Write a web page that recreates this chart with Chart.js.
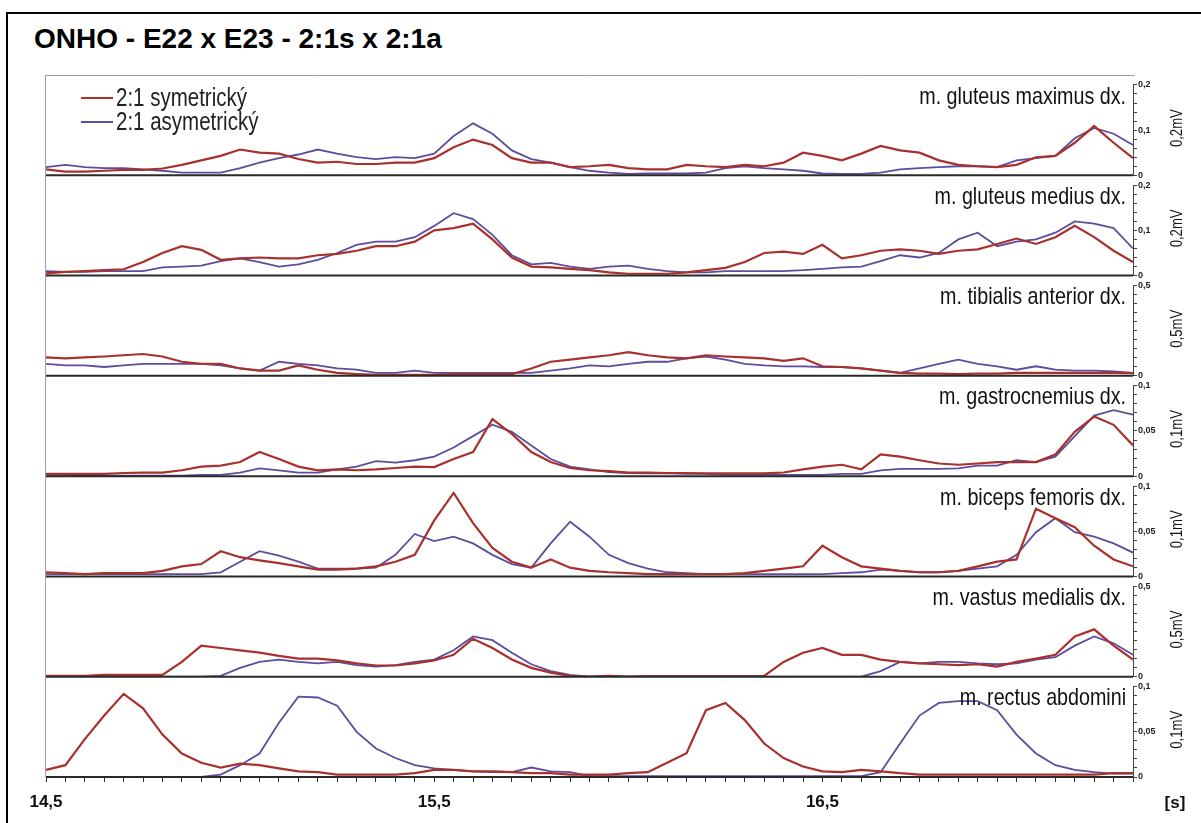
<!DOCTYPE html>
<html>
<head>
<meta charset="utf-8">
<title>ONHO - E22 x E23 - 2:1s x 2:1a</title>
<script src="https://cdn.jsdelivr.net/npm/chart.js@4.4.1/dist/chart.umd.min.js"></script>
<style>
  html, body { margin: 0; padding: 0; background: #fff; }
  #wrap { position: relative; width: 1201px; height: 823px; overflow: hidden; }
  #frame { position: absolute; left: 6px; top: 12px; right: -10px; bottom: -10px;
           border-top: 2px solid #000; border-left: 2px solid #000; }
  #title { position: absolute; left: 34px; top: 25px; color: #000; white-space: nowrap;
           font: bold 28px/28px 'Liberation Sans', Arial, sans-serif; }
  canvas { position: absolute; left: 0; top: 0; }
</style>
</head>
<body>
<div id="wrap">
  <div id="frame"></div>
  <div id="title">ONHO - E22 x E23 - 2:1s x 2:1a</div>
  <canvas id="emg-chart" width="1201" height="823"></canvas>
</div>
<script>
'use strict';

// ************* Data *************
// time base [s], one sample every 0.05 s
let timeS = [14.5, 14.55, 14.6, 14.65, 14.7, 14.75, 14.8, 14.85, 14.9, 14.95,
  15, 15.05, 15.1, 15.15, 15.2, 15.25, 15.3, 15.35, 15.4, 15.45,
  15.5, 15.55, 15.6, 15.65, 15.7, 15.75, 15.8, 15.85, 15.9, 15.95,
  16, 16.05, 16.1, 16.15, 16.2, 16.25, 16.3, 16.35, 16.4, 16.45,
  16.5, 16.55, 16.6, 16.65, 16.7, 16.75, 16.8, 16.85, 16.9, 16.95,
  17, 17.05, 17.1, 17.15, 17.2, 17.25, 17.3];

let xTickValues = [14.5, 15.5, 16.5];
let xTickLabels = ['14,5', '15,5', '16,5'];

let seriesNames = ['2:1 symetrický', '2:1 asymetrický'];

let panelNames = ['m. gluteus maximus dx.', 'm. gluteus medius dx.', 'm. tibialis anterior dx.',
  'm. gastrocnemius dx.', 'm. biceps femoris dx.', 'm. vastus medialis dx.', 'm. rectus abdomini'];
let panelFull = [0.2, 0.2, 0.5, 0.1, 0.1, 0.5, 0.1];
let panelUnits = ['0,2mV', '0,2mV', '0,5mV', '0,1mV', '0,1mV', '0,5mV', '0,1mV'];
let panelTickValues = [[0, 0.1, 0.2], [0, 0.1, 0.2], [0, 0.5], [0, 0.05, 0.1], [0, 0.05, 0.1], [0, 0.5], [0, 0.05, 0.1]];
let panelTickLabels = [['0', '0,1', '0,2'], ['0', '0,1', '0,2'], ['0', '0,5'], ['0', '0,05', '0,1'],
  ['0', '0,05', '0,1'], ['0', '0,5'], ['0', '0,05', '0,1']];

// EMG envelopes [mV]
let gmaxSym = [0.013, 0.008, 0.008, 0.010, 0.012, 0.012, 0.015, 0.023, 0.033, 0.043, 0.057, 0.050, 0.048, 0.036,
  0.028, 0.030, 0.025, 0.025, 0.028, 0.028, 0.038, 0.062, 0.079, 0.067, 0.038, 0.028, 0.028, 0.018,
  0.020, 0.023, 0.016, 0.013, 0.013, 0.023, 0.020, 0.018, 0.023, 0.020, 0.028, 0.050, 0.043, 0.033,
  0.048, 0.065, 0.055, 0.050, 0.033, 0.023, 0.020, 0.018, 0.023, 0.040, 0.043, 0.072, 0.109, 0.072, 0.038];
let gmaxAsym = [0.018, 0.023, 0.018, 0.016, 0.016, 0.013, 0.010, 0.006, 0.006, 0.006, 0.016, 0.028, 0.038, 0.046,
  0.057, 0.048, 0.040, 0.036, 0.040, 0.038, 0.048, 0.087, 0.115, 0.092, 0.055, 0.036, 0.028, 0.018,
  0.010, 0.006, 0.003, 0.004, 0.004, 0.004, 0.006, 0.016, 0.020, 0.016, 0.013, 0.010, 0.004, 0.003,
  0.003, 0.006, 0.013, 0.016, 0.018, 0.020, 0.020, 0.018, 0.033, 0.038, 0.043, 0.082, 0.105, 0.092, 0.067];

let gmedSym = [0.005, 0.008, 0.010, 0.012, 0.014, 0.030, 0.050, 0.065, 0.057, 0.035, 0.038, 0.040, 0.038, 0.038,
  0.045, 0.048, 0.055, 0.065, 0.065, 0.075, 0.100, 0.105, 0.115, 0.080, 0.040, 0.020, 0.018, 0.015,
  0.012, 0.007, 0.004, 0.004, 0.004, 0.007, 0.012, 0.017, 0.030, 0.050, 0.053, 0.048, 0.068, 0.038,
  0.045, 0.055, 0.058, 0.055, 0.048, 0.055, 0.058, 0.070, 0.082, 0.070, 0.085, 0.110, 0.085, 0.055, 0.030];
let gmedAsym = [0.010, 0.008, 0.008, 0.010, 0.010, 0.010, 0.018, 0.020, 0.022, 0.032, 0.038, 0.030, 0.020, 0.025,
  0.035, 0.050, 0.068, 0.075, 0.075, 0.085, 0.110, 0.138, 0.125, 0.090, 0.045, 0.025, 0.028, 0.020,
  0.015, 0.020, 0.022, 0.015, 0.010, 0.007, 0.007, 0.010, 0.010, 0.010, 0.010, 0.012, 0.015, 0.018,
  0.020, 0.032, 0.045, 0.040, 0.050, 0.080, 0.095, 0.065, 0.075, 0.080, 0.095, 0.120, 0.115, 0.105, 0.060];

let tibSym = [0.102, 0.097, 0.102, 0.107, 0.114, 0.121, 0.107, 0.078, 0.066, 0.066, 0.041, 0.029, 0.029, 0.058,
  0.034, 0.017, 0.010, 0.005, 0.005, 0.005, 0.005, 0.010, 0.010, 0.010, 0.010, 0.041, 0.078, 0.090,
  0.102, 0.114, 0.131, 0.114, 0.102, 0.097, 0.114, 0.107, 0.102, 0.097, 0.083, 0.097, 0.053, 0.049,
  0.041, 0.029, 0.017, 0.012, 0.012, 0.010, 0.012, 0.012, 0.017, 0.017, 0.017, 0.017, 0.017, 0.017, 0.015];
let tibAsym = [0.066, 0.058, 0.058, 0.049, 0.058, 0.066, 0.066, 0.066, 0.066, 0.058, 0.041, 0.029, 0.078, 0.066,
  0.058, 0.041, 0.034, 0.017, 0.017, 0.029, 0.017, 0.017, 0.017, 0.017, 0.017, 0.017, 0.029, 0.041,
  0.058, 0.053, 0.066, 0.078, 0.078, 0.097, 0.107, 0.090, 0.066, 0.058, 0.053, 0.053, 0.049, 0.049,
  0.041, 0.029, 0.017, 0.041, 0.066, 0.090, 0.066, 0.053, 0.034, 0.053, 0.034, 0.029, 0.029, 0.024, 0.017];

let gastSym = [0.0025, 0.0025, 0.0025, 0.0025, 0.0035, 0.004, 0.004, 0.0065, 0.0106, 0.0116, 0.0156, 0.0267, 0.019, 0.0106,
  0.0065, 0.0075, 0.0065, 0.0075, 0.009, 0.0106, 0.010, 0.019, 0.0267, 0.063, 0.0468, 0.0267, 0.0156, 0.009,
  0.0065, 0.0055, 0.004, 0.004, 0.0035, 0.0035, 0.003, 0.003, 0.003, 0.003, 0.004, 0.0075, 0.0106, 0.0126,
  0.0075, 0.024, 0.0216, 0.0176, 0.014, 0.0126, 0.014, 0.0156, 0.0156, 0.0156, 0.024, 0.049, 0.066, 0.0568, 0.034];
let gastAsym = [0.0015, 0.0015, 0.0005, 0.0005, 0.0005, 0.0005, 0.0005, 0.0005, 0.0015, 0.0015, 0.004, 0.0085, 0.0065, 0.004,
  0.004, 0.0075, 0.0106, 0.0166, 0.015, 0.0176, 0.0216, 0.0317, 0.0443, 0.057, 0.049, 0.034, 0.019, 0.0106,
  0.0075, 0.0045, 0.0035, 0.003, 0.003, 0.0025, 0.0025, 0.0015, 0.0015, 0.0015, 0.0015, 0.0015, 0.0015, 0.0025,
  0.0025, 0.0065, 0.008, 0.008, 0.008, 0.0085, 0.0116, 0.0116, 0.0176, 0.0156, 0.0216, 0.0443, 0.067, 0.073, 0.068];

let bicSym = [0.0046, 0.0036, 0.0025, 0.0036, 0.0036, 0.0036, 0.0061, 0.0112, 0.0137, 0.0279, 0.0213, 0.0178, 0.0147, 0.0112,
  0.0076, 0.0076, 0.0086, 0.0112, 0.0163, 0.0239, 0.062, 0.0925, 0.059, 0.0315, 0.0163, 0.0097, 0.0188, 0.0097,
  0.0061, 0.0046, 0.0036, 0.0025, 0.0025, 0.0025, 0.0025, 0.0025, 0.0036, 0.0061, 0.0086, 0.0112, 0.034, 0.0213,
  0.0112, 0.0086, 0.0061, 0.0046, 0.0046, 0.0061, 0.0112, 0.0163, 0.0188, 0.075, 0.0645, 0.0544, 0.034, 0.0188, 0.0112];
let bicAsym = [0.0025, 0.0025, 0.0025, 0.0025, 0.0025, 0.0025, 0.0025, 0.0025, 0.0025, 0.0046, 0.0163, 0.0279, 0.0229, 0.0163,
  0.0086, 0.0086, 0.0086, 0.0097, 0.0239, 0.047, 0.0392, 0.044, 0.0366, 0.0239, 0.0137, 0.0097, 0.0366, 0.0605,
  0.044, 0.0239, 0.0147, 0.0086, 0.0046, 0.0036, 0.0025, 0.0025, 0.0025, 0.0025, 0.0025, 0.0025, 0.0025, 0.0036,
  0.0046, 0.0076, 0.0061, 0.0046, 0.0046, 0.0061, 0.0086, 0.0112, 0.0239, 0.049, 0.0645, 0.049, 0.044, 0.0366, 0.0264];

let vastSym = [0.005, 0.005, 0.005, 0.010, 0.010, 0.010, 0.010, 0.082, 0.172, 0.159, 0.146, 0.133, 0.115, 0.100,
  0.100, 0.090, 0.074, 0.062, 0.062, 0.074, 0.090, 0.121, 0.210, 0.159, 0.095, 0.049, 0.023, 0.005,
  0.000, 0.005, 0.000, 0.003, 0.003, 0.003, 0.003, 0.003, 0.003, 0.005, 0.082, 0.133, 0.159, 0.121,
  0.121, 0.095, 0.082, 0.074, 0.069, 0.064, 0.069, 0.056, 0.082, 0.100, 0.121, 0.223, 0.262, 0.172, 0.095];
let vastAsym = [0, 0, 0, 0, 0, 0, 0, 0, 0, 0.005, 0.049, 0.082, 0.095, 0.082,
  0.074, 0.082, 0.064, 0.056, 0.064, 0.082, 0.095, 0.146, 0.223, 0.202, 0.133, 0.069, 0.031, 0.010,
  0, 0, 0, 0, 0, 0, 0, 0, 0, 0, 0, 0, 0, 0,
  0, 0.031, 0.082, 0.074, 0.082, 0.082, 0.074, 0.069, 0.074, 0.095, 0.108, 0.172, 0.223, 0.185, 0.121];

let rectSym = [0.0079, 0.0131, 0.042, 0.068, 0.092, 0.076, 0.047, 0.026, 0.0158, 0.0105, 0.0147, 0.0131, 0.0095, 0.0063,
  0.0053, 0.0026, 0.0026, 0.0026, 0.0026, 0.0042, 0.0079, 0.0079, 0.0063, 0.0063, 0.0053, 0.0042, 0.0042, 0.0026,
  0.0026, 0.0026, 0.0042, 0.0053, 0.0158, 0.0263, 0.074, 0.082, 0.063, 0.037, 0.021, 0.0116, 0.0063, 0.0053,
  0.0079, 0.0063, 0.0042, 0.0026, 0.0026, 0.0026, 0.0026, 0.0026, 0.0026, 0.0026, 0.0026, 0.0026, 0.0026, 0.0042, 0.0042];
let rectAsym = [0, 0, 0, 0, 0, 0, 0, 0, 0, 0.0026, 0.0131, 0.026, 0.060, 0.089,
  0.088, 0.079, 0.050, 0.0316, 0.021, 0.0131, 0.0095, 0.0079, 0.0063, 0.0053, 0.0053, 0.0105, 0.0063, 0.0053,
  0.001, 0.001, 0.001, 0.001, 0.001, 0.001, 0.001, 0.001, 0.001, 0.001, 0.001, 0.001, 0.001, 0.001,
  0.001, 0.0053, 0.037, 0.068, 0.082, 0.084, 0.084, 0.074, 0.047, 0.026, 0.0131, 0.0079, 0.0053, 0.0037, 0.0037];

let symSeries = [gmaxSym, gmedSym, tibSym, gastSym, bicSym, vastSym, rectSym];
let asymSeries = [gmaxAsym, gmedAsym, tibAsym, gastAsym, bicAsym, vastAsym, rectAsym];

// ************* Styles *************
let seriesColors = ['#a8312d', '#5e4c9c'];
let textFont = '"Liberation Sans", Arial, sans-serif';
let narrowScale = 0.82; // no narrow face installed, so squeeze the regular one

// ************* Helpers *************
function toPoints(values){
  return values.map((v, i) => ({x: timeS[i], y: v}));
}

function panelId(i){
  return 'y' + (i + 1);
}

function matchLabel(v, values, labels){
  for(let k = 0; k < values.length; k++){
    if(Math.abs(v - values[k]) < 1e-9){
      return labels[k];
    }
  }
  return '';
}

function line(ctx, x1, y1, x2, y2){
  ctx.beginPath();
  ctx.moveTo(x1, y1);
  ctx.lineTo(x2, y2);
  ctx.stroke();
}

function narrowText(ctx, text, x, y, size, align, angle){
  ctx.save();
  ctx.translate(x, y);
  if(angle){
    ctx.rotate(angle);
  }
  ctx.scale(narrowScale, 1);
  ctx.font = size + 'px ' + textFont;
  ctx.textAlign = align;
  ctx.textBaseline = 'middle';
  ctx.fillText(text, 0, 0);
  ctx.restore();
}

// ************* Datasets & scales *************
let datasets = [];
let scales = {
  x: {
    type: 'linear',
    min: 14.5,
    max: 17.3,
    afterBuildTicks: s => {
      s.ticks = [];
      for(let k = 0; k <= 56; k++){
        s.ticks.push({value: Math.round((14.5 + k * 0.05) * 100) / 100});
      }
    },
    afterFit: s => { s.height = 46; },
    grid: {drawOnChartArea: false, tickLength: 5, color: '#333', lineWidth: 1},
    border: {display: false},
    ticks: {
      autoSkip: false,
      maxRotation: 0,
      padding: 10,
      color: '#111',
      font: {family: textFont, size: 17, weight: 'bold'},
      callback: v => matchLabel(v, xTickValues, xTickLabels)
    }
  }
};

for(let i = 0; i < panelNames.length; i++){
  let id = panelId(i);
  datasets.push({
    label: seriesNames[0],
    data: toPoints(symSeries[i]),
    yAxisID: id,
    borderColor: seriesColors[0],
    borderWidth: 2.2,
    pointRadius: 0,
    tension: 0
  });
  datasets.push({
    label: seriesNames[1],
    data: toPoints(asymSeries[i]),
    yAxisID: id,
    borderColor: seriesColors[1],
    borderWidth: 1.8,
    pointRadius: 0,
    tension: 0
  });

  let full = panelFull[i];
  scales[id] = {
    type: 'linear',
    position: 'right',
    stack: 'emg',
    stackWeight: 1,
    min: 0,
    max: full * 1.11,
    afterBuildTicks: s => {
      s.ticks = [];
      for(let k = 0; k <= 10; k++){
        s.ticks.push({value: Math.round(k * full / 10 * 10000) / 10000});
      }
    },
    afterFit: s => { s.width = 68; },
    grid: {drawOnChartArea: false, tickLength: 4, color: '#444', lineWidth: 1},
    border: {display: false},
    ticks: {
      autoSkip: false,
      padding: 1,
      color: '#222',
      font: {family: textFont, size: 9, weight: 'bold'},
      callback: v => matchLabel(v, panelTickValues[i], panelTickLabels[i])
    }
  };
}

// ************* Panel decorations *************
let panelDecor = {
  id: 'panelDecor',
  afterDatasetsDraw(chart){
    let ctx = chart.ctx;
    let area = chart.chartArea;
    ctx.save();

    // light frame round the plot
    ctx.strokeStyle = '#a0a0a0';
    ctx.lineWidth = 1;
    line(ctx, area.left - 0.5, area.bottom, area.left - 0.5, area.top + 0.5);
    line(ctx, area.left - 0.5, area.top + 0.5, area.right + 2, area.top + 0.5);

    for(let i = 0; i < panelNames.length; i++){
      let s = chart.scales[panelId(i)];
      let y0 = s.getPixelForValue(0);
      let yTop = s.getPixelForValue(panelFull[i]);

      // dark zero line of each panel
      ctx.strokeStyle = '#2a2a2a';
      ctx.lineWidth = 2;
      line(ctx, area.left, y0, area.right, y0);

      // right axis line
      ctx.strokeStyle = '#444';
      ctx.lineWidth = 1;
      line(ctx, s.left + 0.5, y0, s.left + 0.5, yTop);

      ctx.fillStyle = '#111';
      // muscle name
      narrowText(ctx, panelNames[i], area.right - 7, s.top + 22, 24, 'right');
      // unit label, reading upwards
      narrowText(ctx, panelUnits[i], s.left + 45, (y0 + yTop) / 2 - 2, 16, 'center', -Math.PI / 2);
    }

    // legend
    let lx = area.left + 35;
    let ly = area.top + 23;
    for(let k = 0; k < seriesNames.length; k++){
      let y = ly + k * 24;
      ctx.strokeStyle = seriesColors[k];
      ctx.lineWidth = 2;
      line(ctx, lx, y, lx + 32, y);
      ctx.fillStyle = '#222';
      narrowText(ctx, seriesNames[k], lx + 35, y + 1, 25, 'left');
    }

    // time unit
    ctx.fillStyle = '#111';
    ctx.font = 'bold 17px ' + textFont;
    ctx.textAlign = 'center';
    ctx.textBaseline = 'middle';
    ctx.fillText('[s]', area.right + 42, chart.scales.x.top + 26);

    ctx.restore();
  }
};

// ************* Chart *************
let canvasElem = document.getElementById('emg-chart');

new Chart(canvasElem, {
  type: 'line',
  data: {datasets: datasets},
  options: {
    responsive: false,
    animation: false,
    devicePixelRatio: 1,
    layout: {padding: {left: 46, top: 75, right: 0, bottom: 0}},
    plugins: {
      legend: {display: false},
      tooltip: {enabled: false}
    },
    scales: scales
  },
  plugins: [panelDecor]
});
</script>
</body>
</html>
